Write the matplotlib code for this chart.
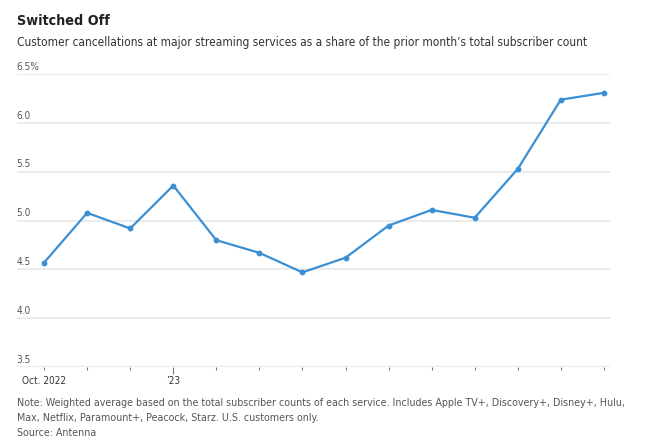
import matplotlib
matplotlib.use("Agg")
import matplotlib.pyplot as plt

# monthly cancellation rate (%), Oct 2022 .. Nov 2023
months = ["Oct. 2022", "Nov", "Dec", "Jan", "Feb", "Mar", "Apr",
          "May", "Jun", "Jul", "Aug", "Sep", "Oct", "Nov"]
churn = [4.57, 5.08, 4.92, 5.36, 4.80, 4.67, 4.47,
         4.62, 4.95, 5.11, 5.03, 5.53, 6.24, 6.31]
y_ticks = [3.5, 4.0, 4.5, 5.0, 5.5, 6.0, 6.5]
y_labels = ["3.5", "4.0", "4.5", "5.0", "5.5", "6.0", "6.5%"]
x_labels = {0: "Oct. 2022", 3: "\u201923"}

plt.rcParams["font.family"] = ["DejaVu Sans"]
plt.rcParams["font.stretch"] = "condensed"

fig = plt.figure(figsize=(6.45, 4.46), dpi=100)
ax = fig.add_axes([0.0256, 0.1771, 0.92, 0.6563])

x = list(range(len(churn)))
ax.plot(x, churn, color="#3b8fd5", lw=1.6, marker="o", ms=3.2,
        clip_on=False, zorder=3)

ax.set_ylim(3.5, 6.5)
ax.set_xlim(-0.64, 13.14)

# gridlines with labels sitting on top, left aligned
for v, lab in zip(y_ticks, y_labels):
    ax.axhline(v, color="#e5e5e5", lw=1.1, zorder=1)
    ax.text(0, v + 0.025, lab, transform=ax.get_yaxis_transform(),
            ha="left", va="bottom", fontsize=7.2, color="#555555")
ax.set_yticks([])

for s in ax.spines.values():
    s.set_visible(False)

ax.set_xticks(x)
ax.set_xticklabels([x_labels.get(i, "") for i in x], fontsize=7.2, color="#333333")
ax.tick_params(axis="x", length=2.5, width=0.8, color="#777777", pad=4)
for i, t in enumerate(ax.xaxis.get_major_ticks()):
    if i == 3:
        t.tick1line.set_markersize(5)

fig.text(0.026, 0.952, "Switched Off", fontsize=10.3, fontweight="bold",
         color="#222222", va="center")
fig.text(0.026, 0.905,
         "Customer cancellations at major streaming services as a share of the prior month\u2019s total subscriber count",
         fontsize=8.6, color="#333333", va="center")

fig.text(0.026, 0.097,
         "Note: Weighted average based on the total subscriber counts of each service. Includes Apple TV+, Discovery+, Disney+, Hulu,",
         fontsize=7.7, color="#555555", va="center")
fig.text(0.026, 0.063,
         "Max, Netflix, Paramount+, Peacock, Starz. U.S. customers only.",
         fontsize=7.7, color="#555555", va="center")
fig.text(0.026, 0.029, "Source: Antenna", fontsize=7.7, color="#555555",
         va="center")

fig.savefig("out.png", dpi=100)
